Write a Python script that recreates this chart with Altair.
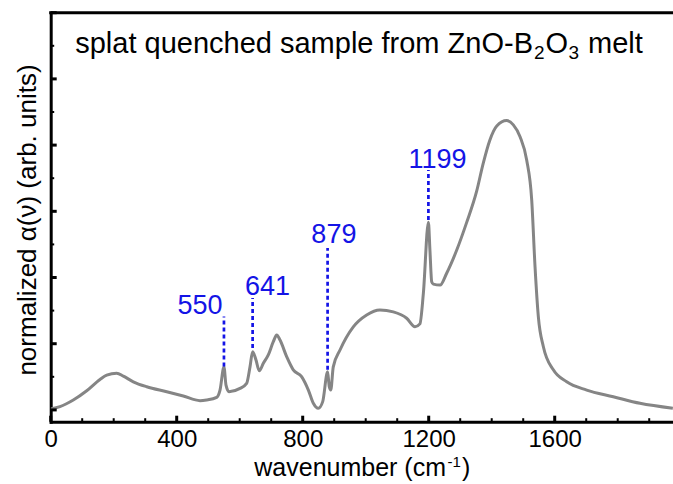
import altair as alt
import pandas as pd

# ---- spectrum ----
wavenumber = [0, 29.5, 71.7, 114.3, 156.5, 177.8, 209.5, 230.5, 262.2, 304.8,
              368.3, 421, 474, 495, 527, 537.5, 550, 556.5, 566, 601,
              622, 632.7, 641, 651.7, 662, 675, 690.8, 706.7, 717.5, 728,
              749, 770, 797, 818, 833.7, 849.5, 863.5, 879, 884.4, 889,
              897, 918.4, 960.6, 1003, 1045, 1087.6, 1130, 1156.5, 1172, 1183,
              1199, 1204, 1209.5, 1214.6, 1236, 1257, 1289, 1320, 1352,
              1373, 1394, 1416, 1447.6, 1468.6, 1490, 1511, 1527, 1537.5, 1548,
              1564, 1595.6, 1638, 1701.6, 1786, 1870.8, 1975]
alpha = [0.003, 0.010, 0.030, 0.058, 0.092, 0.105, 0.111, 0.102, 0.085, 0.070,
         0.055, 0.042, 0.028, 0.030, 0.038, 0.060, 0.130, 0.075, 0.055, 0.065,
         0.080, 0.130, 0.176, 0.151, 0.118, 0.141, 0.166, 0.206, 0.226, 0.211,
         0.161, 0.121, 0.100, 0.060, 0.020, 0.005, 0.025, 0.115, 0.070, 0.060,
         0.130, 0.181, 0.251, 0.287, 0.302, 0.296, 0.277, 0.251, 0.260, 0.352,
         0.567, 0.480, 0.387, 0.380, 0.377, 0.413, 0.483, 0.565, 0.660,
         0.745, 0.815, 0.858, 0.874, 0.861, 0.825, 0.755, 0.634, 0.433, 0.282,
         0.191, 0.121, 0.085, 0.060, 0.040, 0.020, 0.005]

# ---- peak annotations ----
peak_pos = [550, 641, 879, 1199]
peak_label = ["550", "641", "879", "1199"]
line_bottom = [0.131, 0.187, 0.121, 0.574]
line_top = [0.282, 0.338, 0.489, 0.725]
label_x = [474, 688, 899, 1228]
label_y = [0.290, 0.346, 0.504, 0.731]

# ---- axis ticks ----
x_major = [0, 400, 800, 1200, 1600]
x_minor = [100, 200, 300, 500, 600, 700, 900, 1000, 1100, 1300, 1400, 1500, 1700, 1800, 1900]
y_major = [0.0, 0.2, 0.4, 0.6, 0.8, 1.0, 1.2]
y_minor = [0.1, 0.3, 0.5, 0.7, 0.9, 1.1]

title_main = "splat quenched sample from ZnO-B"
title_sub1 = "2"
title_mid = "O"
title_sub2 = "3"
title_end = "melt"
xtitle_main = "wavenumber (cm"
xtitle_sup = "-1"
xtitle_end = ")"
ytitle = "normalized \u03b1(\u03bd) (arb. units)"

FONT = "Liberation Sans"
BLUE = "#1414e6"
W, H = 622.3, 409.0
PAD_L, PAD_T = 50.7, 12.7

xs = alt.Scale(domain=[0, 1975.5], nice=False, zero=False)
ys = alt.Scale(domain=[-0.0356, 1.2], nice=False, zero=False)

AX_X = alt.Axis(values=x_major, ticks=False, grid=False, title=None,
                domainColor="black", domainWidth=3, domainCap="square",
                labelFont=FONT, labelFontSize=24, labelColor="black",
                labelPadding=6, labelFlush=False, format="d")
AX_Y = alt.Axis(ticks=False, labels=False, grid=False, title=None,
                domainColor="black", domainWidth=3, domainCap="square")

spec = pd.DataFrame({"wn": wavenumber, "a": alpha})
ann = pd.DataFrame({"peak": peak_pos, "label": peak_label, "bot": line_bottom,
                    "top": line_top, "lx": label_x, "ly": label_y})

curve = alt.Chart(spec).mark_line(color="#858585", strokeWidth=3, interpolate="monotone", clip=True).encode(
    x=alt.X("wn:Q", scale=xs, axis=AX_X),
    y=alt.Y("a:Q", scale=ys, axis=AX_Y),
)

def xticks(vals, length, width):
    return alt.Chart(pd.DataFrame({"v": vals})).mark_rule(color="black", strokeWidth=width).encode(
        x=alt.X("v:Q", scale=xs, axis=AX_X), y=alt.value(H), y2=alt.value(H - length))

def yticks(vals, length, width):
    return alt.Chart(pd.DataFrame({"v": vals})).mark_rule(color="black", strokeWidth=width).encode(
        y=alt.Y("v:Q", scale=ys, axis=AX_Y), x=alt.value(0), x2=alt.value(length))

top_border = alt.Chart(pd.DataFrame({"d": [0]})).mark_rule(color="black", strokeWidth=3).encode(
    x=alt.value(-1.5), x2=alt.value(W + 5), y=alt.value(0))

dash = alt.Chart(ann).mark_rule(color=BLUE, strokeWidth=2.7, strokeDash=[4, 3]).encode(
    x=alt.X("peak:Q", scale=xs, axis=AX_X), y=alt.Y("bot:Q", scale=ys, axis=AX_Y), y2="top:Q")
labels = alt.Chart(ann).mark_text(color=BLUE, font=FONT, fontSize=27, align="center", baseline="alphabetic").encode(
    x=alt.X("lx:Q", scale=xs, axis=AX_X), y=alt.Y("ly:Q", scale=ys, axis=AX_Y), text="label:N")

def txt(s, x, y, size, align="left", angle=0, color="black"):
    kw = dict(font=FONT, fontSize=size, align=align, baseline="alphabetic", color=color)
    if angle:
        kw["angle"] = angle
    return alt.Chart(pd.DataFrame({"t": [s]})).mark_text(**kw).encode(
        x=alt.value(x), y=alt.value(y), text="t:N")

# title inside the plot
t1 = txt(title_main, 533 - PAD_L, 53 - PAD_T, 29, align="right")
t2 = txt(title_sub1, 534 - PAD_L, 59 - PAD_T, 19)
t3 = txt(title_mid, 545.5 - PAD_L, 53 - PAD_T, 29)
t4 = txt(title_sub2, 568.5 - PAD_L, 59 - PAD_T, 19)
t5 = txt(title_end, 588 - PAD_L, 53 - PAD_T, 29)

# x axis title
xt1 = txt(xtitle_main, 446 - PAD_L, 476 - PAD_T, 25, align="right")
xt2 = txt(xtitle_sup, 447.5 - PAD_L, 467 - PAD_T, 15)
xt3 = txt(xtitle_end, 462 - PAD_L, 476 - PAD_T, 25)

# y axis title
yt = txt(ytitle, 36 - PAD_L, 220 - PAD_T, 26, align="center", angle=270)

chart = alt.layer(
    curve, xticks(x_major, 6, 3), xticks(x_minor, 3.5, 2), yticks(y_major, 6, 3), yticks(y_minor, 3.5, 2),
    top_border, dash, labels, t1, t2, t3, t4, t5, xt1, xt2, xt3, yt
).properties(
    width=W, height=H,
    autosize=alt.AutoSizeParams(type="none"),
    padding={"left": PAD_L, "top": PAD_T, "right": 0, "bottom": 484 - PAD_T - H},
).configure_view(stroke=None).configure(background="white")

chart.save("out.html", embed_options={"renderer": "svg", "actions": False})
